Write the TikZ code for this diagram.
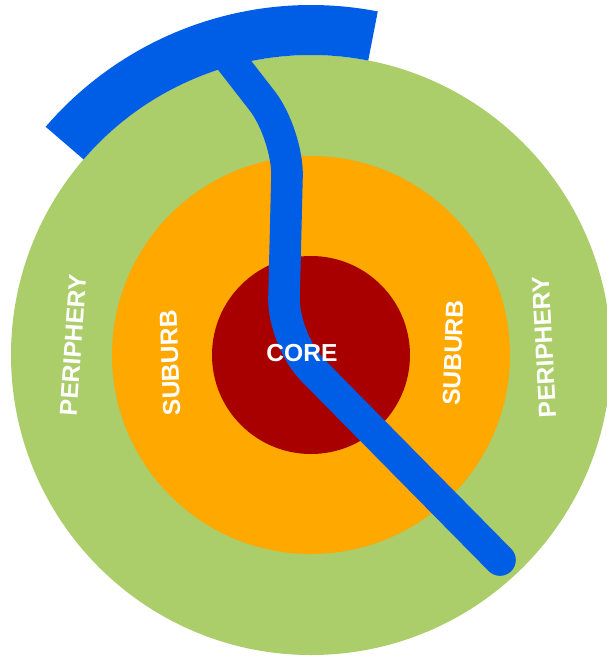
\documentclass[tikz,border=0pt]{standalone}
\usepackage{fontspec}
\setmainfont{Liberation Sans}
\usetikzlibrary{calc}
\definecolor{pgreen}{RGB}{171,205,106}
\definecolor{porange}{RGB}{255,168,0}
\definecolor{pred}{RGB}{168,0,0}
\definecolor{pblue}{RGB}{0,94,230}
\begin{document}
\begin{tikzpicture}[x=0.02cm,y=-0.02cm,
  lbl/.style={text=white,font=\bfseries\fontsize{14}{16}\selectfont,inner sep=0pt}]
\useasboundingbox (0,0) rectangle (607,657);
\coordinate (c) at (311,355);
\fill[pgreen] (c) circle[radius=300];
\fill[porange] (c) circle[radius=199];
\fill[pred] (c) circle[radius=99];
% blue line
\coordinate (s) at (218,44);
\coordinate (k1) at (288,134);
\coordinate (k2) at (283,340);
\coordinate (e) at (500,560);
\draw[pblue,line width=18pt,line cap=round,rounded corners=24pt] (s) -- (k1) -- (k2) -- (e);
% blue arc band
\fill[pblue] ($(c)+(-79:300)$) arc[start angle=-79,end angle=-139.3,radius=300]
  -- ($(c)+(-139.3:350)$) arc[start angle=-139.3,end angle=-79,radius=350] -- cycle;
\node[lbl] (core) at (302,353) {CORE};
\node[lbl,rotate=86] (p1) at (73,345) {PERIPHERY};
\node[lbl,rotate=92] (s1) at (170,363) {SUBURB};
\node[lbl,rotate=88] (s2) at (453,353) {SUBURB};
\node[lbl,rotate=93] (p2) at (544,347) {PERIPHERY};
\end{tikzpicture}
\end{document}
